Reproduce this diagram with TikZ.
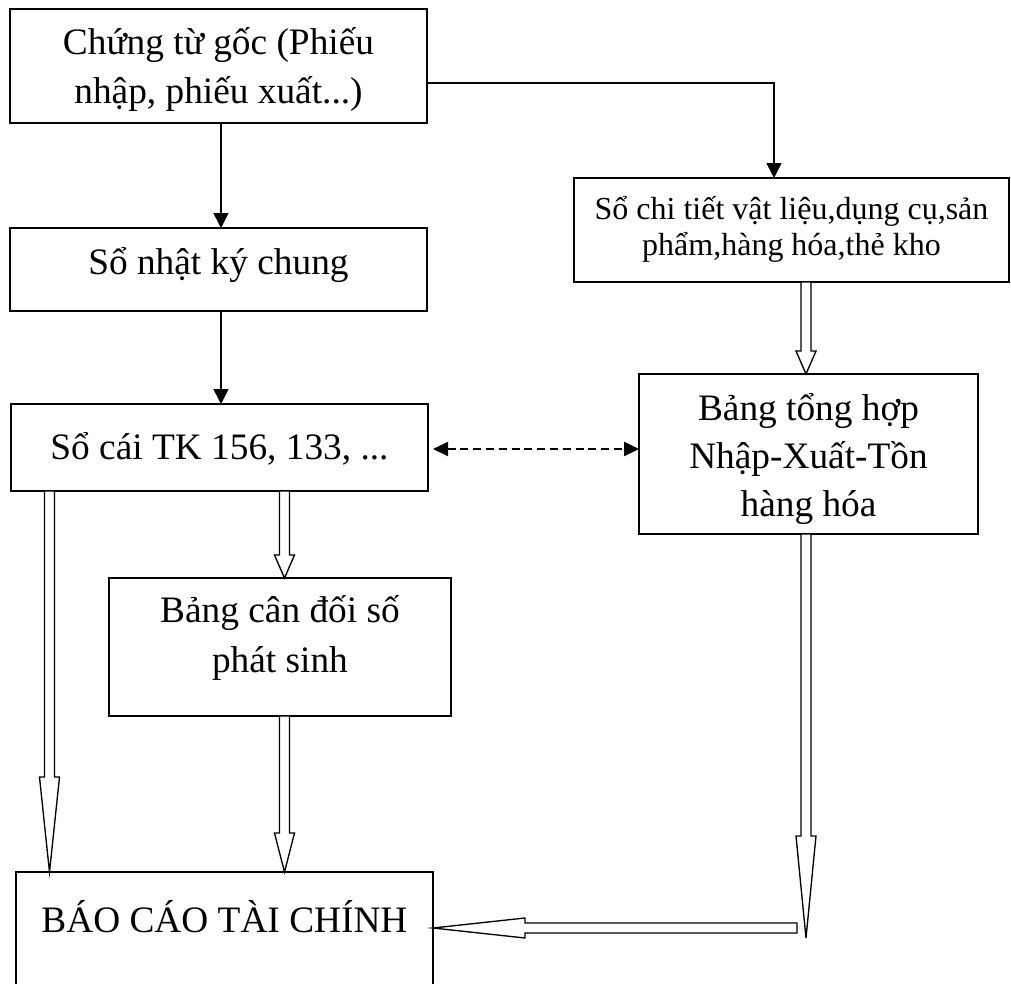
\documentclass[tikz,border=0pt]{standalone}
\usepackage{fontspec}
\setmainfont{Liberation Serif}
\usetikzlibrary{arrows.meta,calc}

% text block of a box: width, height, first-baseline depth, font, lines
\newcommand\boxtext[5]{\parbox[c][#2][t]{#1}{\centering #4\rule{0pt}{#3}#5}}

% hollow block arrow pointing down: start, tip, head length
\newcommand\blkdown[3]{%
  \draw[blk] let \p1=#1, \p2=#2 in
    (\x1-1.875pt,\y1) -- (\x1-1.875pt,\y2+#3) -- (\x1-3.75pt,\y2+#3) -- (\x1,\y2)
    -- (\x1+3.75pt,\y2+#3) -- (\x1+1.875pt,\y2+#3) -- (\x1+1.875pt,\y1) -- cycle;}

% hollow block arrow pointing left: start, tip, head length
\newcommand\blkleft[3]{%
  \draw[blk] let \p1=#1, \p2=#2 in
    (\x1,\y1+1.875pt) -- (\x2+#3,\y1+1.875pt) -- (\x2+#3,\y1+3.75pt) -- (\x2,\y1)
    -- (\x2+#3,\y1-3.75pt) -- (\x2+#3,\y1-1.875pt) -- (\x1,\y1-1.875pt) -- cycle;}

\tikzset{
  box/.style={draw, line width=0.7pt, inner sep=0pt, outer sep=0pt},
  thinarrow/.style={line width=0.6pt, -{Triangle[length=5.6pt,width=5.6pt]}},
  dasharrow/.style={line width=0.7pt, dash pattern=on 3pt off 1.8pt,
    {Triangle[length=5.6pt,width=5.3pt]}-{Triangle[length=5.6pt,width=5.3pt]}},
  blk/.style={draw, fill=white, line width=0.5pt, line join=miter},
}

\begin{document}
\begin{tikzpicture}[x=0.375pt, y=-0.375pt]
\useasboundingbox (0,0) rectangle (1011,984);
\clip (0,0) rectangle (1011,984);

% boxes
\node[box] (b1) at (218.5,66)
  {\boxtext{156.375pt}{42.75pt}{17pt}{\fontsize{14pt}{18.4pt}\selectfont}{Chứng từ gốc (Phiếu\\nhập, phiếu xuất...)}};
\node[box] (b2) at (218.5,269.5)
  {\boxtext{156.375pt}{31.125pt}{17.5pt}{\fontsize{14pt}{18pt}\selectfont}{Sổ nhật ký chung}};
\node[box] (b3) at (219.5,447.5)
  {\boxtext{156.375pt}{32.625pt}{21pt}{\fontsize{14pt}{18pt}\selectfont}{Sổ cái TK 156, 133, ...}};
\node[box] (b4) at (791.5,230)
  {\boxtext{163.125pt}{39pt}{15.5pt}{\fontsize{12pt}{13.5pt}\selectfont}{Sổ chi tiết vật liệu,dụng cụ,sản\\phẩm,hàng hóa,thẻ kho}};
\node[box] (b5) at (808.5,454)
  {\boxtext{127.125pt}{60pt}{17.5pt}{\fontsize{14pt}{18pt}\selectfont}{Bảng tổng hợp\\Nhập-Xuất-Tồn\\hàng hóa}};
\node[box] (b6) at (280,647)
  {\boxtext{128.25pt}{51.75pt}{16.8pt}{\fontsize{14pt}{18.75pt}\selectfont}{Bảng cân đối số\\phát sinh}};
\node[box] (b7) at (224.5,929)
  {\boxtext{156.375pt}{42.75pt}{22.5pt}{\fontsize{14pt}{18pt}\selectfont}{BÁO CÁO TÀI CHÍNH}};

% connector columns and free ends
\coordinate (colA) at (221,0);
\coordinate (colL) at (49.5,0);
\coordinate (colM) at (284.5,0);
\coordinate (colR) at (806,0);
\coordinate (turn) at (774,83);
\coordinate (dashrow) at (0,449);
\coordinate (rEnd) at (806,938);
\coordinate (hStart) at (797,928);

% thin arrows
\draw[thinarrow] (b1.south -| colA) -- (b2.north -| colA);
\draw[thinarrow] (b2.south -| colA) -- (b3.north -| colA);
\draw[thinarrow] (b1.east |- turn) -- (turn) -- (b4.north -| turn);

% dashed two-way link
\draw[dasharrow, shorten <=1.9pt] (b3.east |- dashrow) -- (b5.west |- dashrow);

% block arrows
\blkdown{(b4.south -| colR)}{(b5.north -| colR)}{8.6pt}
\blkdown{(b3.south -| colL)}{(b7.north -| colL)}{35.6pt}
\blkdown{(b3.south -| colM)}{(b6.north -| colM)}{8.6pt}
\blkdown{(b6.south -| colM)}{(b7.north -| colM)}{14.6pt}
\blkdown{(b5.south -| colR)}{(rEnd)}{38.25pt}
\blkleft{(hStart)}{(b7.east |- hStart)}{34.5pt}
\end{tikzpicture}
\end{document}
